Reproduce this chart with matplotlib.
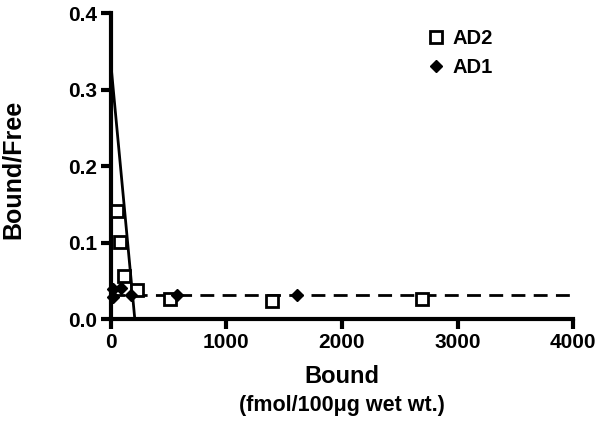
import numpy as np
import matplotlib.pyplot as plt

plt.rcParams['font.family'] = ['Liberation Sans', 'DejaVu Sans']
plt.rcParams['font.weight'] = 'bold'

# Scatchard data
ad2_bound = [58, 78, 115, 231, 511, 1391, 2695]
ad2_ratio = [0.142, 0.101, 0.057, 0.038, 0.026, 0.024, 0.027]

ad1_bound = [15, 15, 92, 179, 574, 1608]
ad1_ratio = [0.040, 0.029, 0.041, 0.031, 0.032, 0.032]

# fitted lines
steep_x = [0, 208]
steep_y = [0.335, 0.0]
flat_x = [0, 4000]
flat_y = [0.032, 0.032]

fig = plt.figure(figsize=(6.02, 4.25), dpi=100)
ax = fig.add_axes([0.184, 0.249, 0.768, 0.72])

ax.plot(steep_x, steep_y, color='black', lw=2, clip_on=False)
ax.plot(flat_x, flat_y, color='black', lw=2, dashes=(5, 3))

ax.plot(ad2_bound, ad2_ratio, 's', ms=8, mfc='white', mec='black', mew=2,
        ls='none', label='AD2', clip_on=False, zorder=3)
ax.plot(ad1_bound, ad1_ratio, 'D', ms=6.5, color='black',
        ls='none', label='AD1', clip_on=False, zorder=4)

ax.set_xlim(0, 4000)
ax.set_ylim(0, 0.4)
ax.set_xticks([0, 1000, 2000, 3000, 4000])
ax.set_yticks([0.0, 0.1, 0.2, 0.3, 0.4])
ax.set_yticklabels(['0.0', '0.1', '0.2', '0.3', '0.4'])

for s in ['top', 'right']:
    ax.spines[s].set_visible(False)
for s in ['left', 'bottom']:
    ax.spines[s].set_linewidth(3)
ax.tick_params(width=3, length=7, labelsize=15, direction='out', pad=3)
for lbl in ax.get_xticklabels() + ax.get_yticklabels():
    lbl.set_fontweight('bold')

ax.set_ylabel('Bound/Free', fontsize=18, fontweight='bold')
ax.yaxis.set_label_coords(-0.186, 0.49)
ax.set_xlabel('Bound', fontsize=17, fontweight='bold', va='top')
ax.xaxis.set_label_coords(0.5, -0.15)
fig.text(0.5 * (0.184 + 0.952), 0.046, '(fmol/100\u03bcg wet wt.)',
         ha='center', va='center', fontsize=15.5, fontweight='bold')

ax.legend(loc='upper left', bbox_to_anchor=(0.665, 0.974), frameon=False,
          handlelength=1.0, handletextpad=0.3, labelspacing=0.5,
          borderaxespad=0, prop={'weight': 'bold', 'size': 14.5})

fig.savefig('out.png', dpi=100)
